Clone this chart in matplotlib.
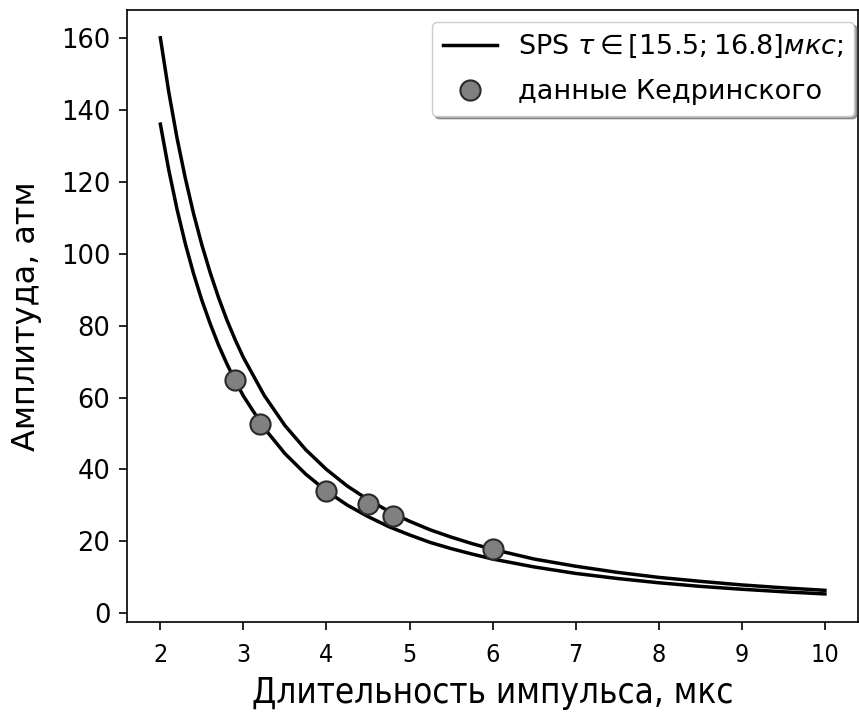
import numpy as np
import matplotlib
matplotlib.use('Agg')
import matplotlib.pyplot as plt

# curve values
t = [2.0, 2.1, 2.2, 2.3, 2.4, 2.5, 2.6, 2.7, 2.8, 2.9, 3.0, 3.25, 3.5, 3.75,
     4.0, 4.25, 4.5, 4.75, 5.0, 5.25, 5.5, 5.75, 6.0, 6.5, 7.0, 7.5, 8.0,
     8.5, 9.0, 9.5, 10.0]
amp_upper = [160.0, 145.1, 132.2, 121.0, 111.1, 102.4, 94.7, 87.8, 81.6, 76.1,
             71.1, 60.6, 52.2, 45.5, 40.0, 35.4, 31.6, 28.4, 25.6, 23.2, 21.2,
             19.4, 17.8, 15.1, 13.1, 11.4, 10.0, 8.9, 7.9, 7.1, 6.4]
amp_lower = [136.0, 123.4, 112.4, 102.8, 94.4, 87.0, 80.5, 74.6, 69.4, 64.7,
             60.4, 51.5, 44.4, 38.7, 34.0, 30.1, 26.9, 24.1, 21.8, 19.7, 18.0,
             16.5, 15.1, 12.9, 11.1, 9.7, 8.5, 7.5, 6.7, 6.0, 5.4]

# Kedrinsky data
t_exp = [2.9, 3.2, 4.0, 4.5, 4.8, 6.0]
amp_exp = [65.0, 52.5, 34.0, 30.5, 27.0, 18.0]

fig = plt.figure(figsize=(8.59, 7.13), dpi=100)
ax = fig.add_axes([0.148, 0.128, 0.851, 0.858])

ax.plot(t, amp_upper, color='black', lw=2.5, label=r'SPS $\tau \in [15.5; 16.8] мкс$;')
ax.plot(t, amp_lower, color='black', lw=2.5)
ax.plot(t_exp, amp_exp, 'o', ms=14.5, mfc='#808080', mec='#2a2a2a', mew=1.5,
        label='данные Кедринского')

ax.set_xticks(range(2, 11))
ax.set_yticks(range(0, 161, 20))
ax.tick_params(length=6, width=1.2)
ax.tick_params(axis='y', labelsize=18.5, pad=6)
for spine in ax.spines.values():
    spine.set_linewidth(1.2)
for lab in ax.get_xticklabels():
    lab.set_fontsize(18)
    lab.set_fontstretch('condensed')
ax.tick_params(axis='x', pad=9)
ax.set_xlabel('Длительность импульса, мкс', fontsize=25, fontstretch='condensed', labelpad=7)
ax.set_ylabel('Амплитуда, атм', fontsize=23, labelpad=14)
ax.legend(fontsize=19.5, shadow=True, loc='upper right', borderaxespad=0,
          bbox_to_anchor=(0.995, 0.98), labelspacing=0.7)

plt.savefig('out.png', dpi=100)
